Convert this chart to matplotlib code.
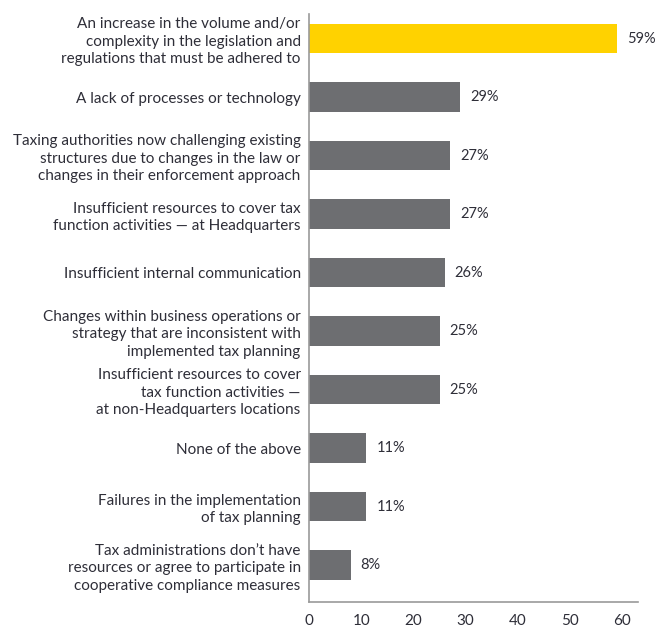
import matplotlib
matplotlib.use("Agg")
import matplotlib.pyplot as plt

categories = [
    "An increase in the volume and/or\ncomplexity in the legislation and\nregulations that must be adhered to",
    "A lack of processes or technology",
    "Taxing authorities now challenging existing\nstructures due to changes in the law or\nchanges in their enforcement approach",
    "Insufficient resources to cover tax\nfunction activities \u2014 at Headquarters",
    "Insufficient internal communication",
    "Changes within business operations or\nstrategy that are inconsistent with\nimplemented tax planning",
    "Insufficient resources to cover\ntax function activities \u2014\nat non-Headquarters locations",
    "None of the above",
    "Failures in the implementation\nof tax planning",
    "Tax administrations don\u2019t have\nresources or agree to participate in\ncooperative compliance measures",
]
values = [59, 29, 27, 27, 26, 25, 25, 11, 11, 8]
xticks = [0, 10, 20, 30, 40, 50, 60]

YELLOW = "#FFD200"
GREY = "#6D6E71"
AXIS = "#9A9A9A"
TEXT = "#2E2E38"

plt.rcParams["font.family"] = ["Lato", "DejaVu Sans"]

fig = plt.figure(figsize=(6.57, 6.32), dpi=100)
ax = fig.add_axes([0.4703, 0.0475, 0.5008, 0.9303])

ypos = list(range(len(values)))
colors = [YELLOW] + [GREY] * (len(values) - 1)
ax.barh(ypos, values, height=0.5, color=colors, zorder=2)

for y, v in zip(ypos, values):
    ax.text(v + 1.9, y, f"{v}%", va="center", ha="left", fontsize=10.5, color=TEXT)

ax.set_yticks(ypos)
ax.set_yticklabels(categories, fontsize=11, color=TEXT, linespacing=1.3)
ax.set_xticks(xticks)
ax.set_xticklabels([str(t) for t in xticks], fontsize=11, color=TEXT)
ax.tick_params(axis="y", length=0, pad=6)
ax.tick_params(axis="x", length=0, pad=9)

ax.set_xlim(0, 63)
ax.set_ylim(len(values) - 1 + 0.63, -0.42)

for side in ("top", "right"):
    ax.spines[side].set_visible(False)
for side in ("left", "bottom"):
    ax.spines[side].set_color(AXIS)
    ax.spines[side].set_linewidth(1.2)

fig.savefig("out.png", dpi=100, facecolor="white")
